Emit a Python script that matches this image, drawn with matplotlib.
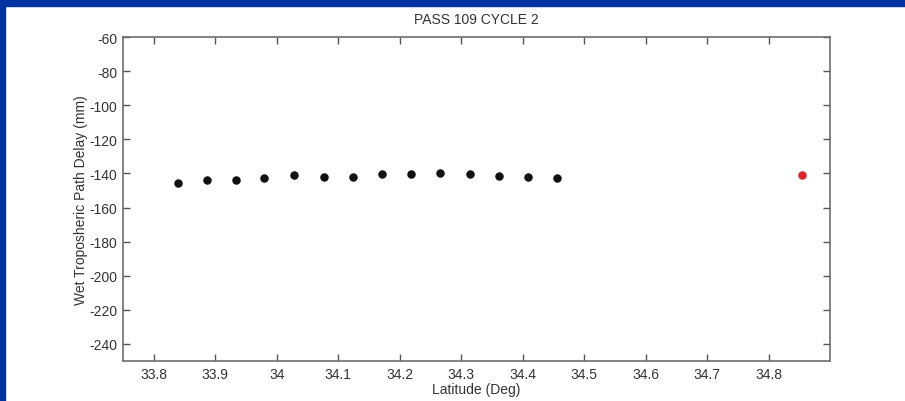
import matplotlib
matplotlib.use("Agg")
import matplotlib.pyplot as plt
from matplotlib.patches import Rectangle
from matplotlib.ticker import FuncFormatter

plt.rcParams['font.family'] = ['Liberation Sans', 'DejaVu Sans']
plt.rcParams['axes.unicode_minus'] = False

# data
lat = [33.839, 33.886, 33.933, 33.980, 34.028, 34.077, 34.124,
       34.171, 34.218, 34.265, 34.314, 34.361, 34.409, 34.456]
delay = [-145.5, -144.0, -143.7, -142.9, -141.1, -142.1, -142.1,
         -140.5, -140.5, -139.9, -140.5, -141.3, -141.9, -142.7]
red_lat = [34.854]
red_delay = [-140.8]

xticks = [33.8, 33.9, 34.0, 34.1, 34.2, 34.3, 34.4, 34.5, 34.6, 34.7, 34.8]
yticks = list(range(-240, -59, 20))

fig = plt.figure(figsize=(9.05, 4.02), dpi=100)
fig.patch.set_facecolor('white')

# blue slide border (top and left)
blue = '#0033a0'
fig.patches.append(Rectangle((0, 1 - 7 / 402), 1, 7 / 402, transform=fig.transFigure,
                             color=blue, zorder=0))
fig.patches.append(Rectangle((0, 0), 5 / 905, 1, transform=fig.transFigure,
                             color=blue, zorder=0))

ax = fig.add_axes([123 / 905, 1 - 362 / 402, (830 - 123) / 905, (362 - 38) / 402])

ax.scatter(lat, delay, s=26, color='#111111', zorder=3)
ax.scatter(red_lat, red_delay, s=26, color='#d8262b', zorder=3)

ax.set_xlim(33.75, 34.9)
ax.set_ylim(-250, -60)
ax.set_xticks(xticks)
ax.set_yticks(yticks)
ax.xaxis.set_major_formatter(FuncFormatter(lambda v, p: ('%g' % round(v, 2))))

for s in ax.spines.values():
    s.set_color('#6e6e6e')
    s.set_linewidth(1.2)
ax.tick_params(direction='in', length=5, width=1, color='#555555',
               top=True, right=True, labelsize=10, labelcolor='#333333', pad=4)

ax.set_title('PASS 109 CYCLE 2', fontsize=10, color='#333333', pad=10)
ax.set_xlabel('Latitude (Deg)', fontsize=10, color='#333333', labelpad=1)
ax.set_ylabel('Wet Troposheric Path Delay (mm)', fontsize=10, color='#333333', labelpad=1)

fig.savefig('out.png', dpi=100)
